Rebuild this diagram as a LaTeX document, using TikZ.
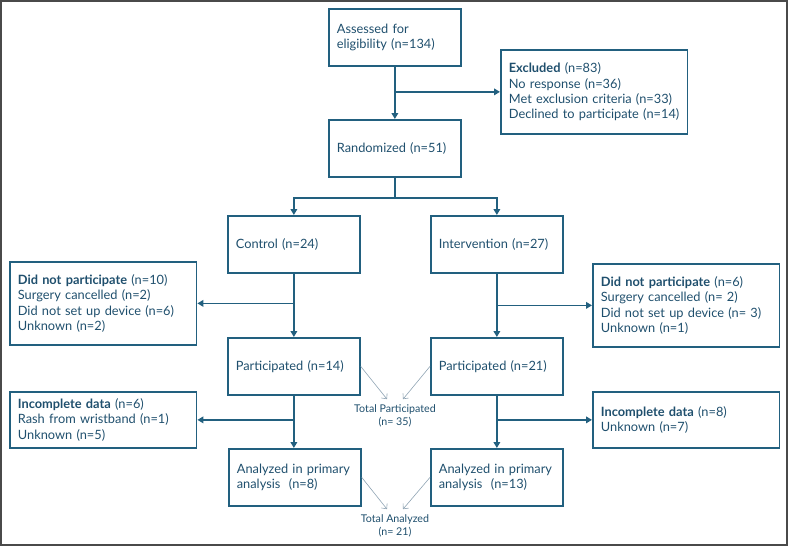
\documentclass[tikz,border=0pt]{standalone}
\usepackage{fontspec}
\setmainfont{Lato}
\usepackage{xcolor}
\usepackage{tikz}
\usetikzlibrary{arrows.meta}

\definecolor{flowblue}{HTML}{22607F}
\definecolor{flowtext}{HTML}{1F4F6D}
\definecolor{thingray}{HTML}{8FA3B3}
\definecolor{framegray}{HTML}{4A4A4A}

\begin{document}
\begin{tikzpicture}[x=0.75pt, y=-0.75pt, >={Triangle[width=5pt,length=4.5pt]},
  box/.style={draw=flowblue, line width=1.3pt, anchor=north west, text=flowtext,
    align=left, inner xsep=6pt, font=\fontsize{9.6}{11.5}\selectfont},
  mainbox/.style={box, text width=87pt, minimum height=42.75pt},
  sidebox/.style={box, text width=128pt},
  flow/.style={draw=flowblue, line width=1.3pt},
  thinarrow/.style={draw=thingray, line width=0.45pt, -{Straight Barb[length=3pt,width=5.5pt]}},
  total/.style={text=flowtext, align=center, inner sep=1pt, font=\fontsize{8}{9.8}\selectfont}]

\useasboundingbox (0,0) rectangle (788,546);

% Cornice
\draw[framegray, line width=1.1pt] (1,1) rectangle (787,545);

% Riquadri centrali
\node[mainbox] (assess) at (328,8) {Assessed for\\eligibility (n=134)};
\node[mainbox] (rand) at (328,119) {Randomized (n=51)};
\node[mainbox] (ctrl) at (227,215) {Control (n=24)};
\node[mainbox] (int) at (430,215) {Intervention (n=27)};
\node[mainbox] (pl) at (227,337) {Participated (n=14)};
\node[mainbox] (pr) at (430,337) {Participated (n=21)};
\node[mainbox] (al) at (228,448) {Analyzed in primary\\analysis~~(n=8)};
\node[mainbox] (ar) at (430,448) {Analyzed in primary\\analysis~~(n=13)};

% Riquadri laterali
\node[sidebox, minimum height=63pt] (excl) at (500,49)
  {\textbf{Excluded} (n=83)\\No response (n=36)\\Met exclusion criteria (n=33)\\Declined to participate (n=14)};
\node[sidebox, minimum height=62.25pt] (dnpl) at (9,261)
  {\textbf{Did not participate} (n=10)\\Surgery cancelled (n=2)\\Did not set up device (n=6)\\Unknown (n=2)};
\node[sidebox, minimum height=62.25pt] (dnpr) at (592,263)
  {\textbf{Did not participate} (n=6)\\Surgery cancelled (n= 2)\\Did not set up device (n= 3)\\Unknown (n=1)};
\node[sidebox, minimum height=42pt] (incl) at (9,391)
  {\textbf{Incomplete data} (n=6)\\Rash from wristband (n=1)\\Unknown (n=5)};
\node[sidebox, minimum height=42pt] (incr) at (592,391)
  {\textbf{Incomplete data} (n=8)\\Unknown (n=7)};

% Totali
\node[total] (totp) at (395,416) {Total Participated\\(n= 35)};
\node[total] (tota) at (395,526) {Total Analyzed\\(n= 21)};

% Frecce
\draw[flow,->] (assess.south) -- (rand.north);
\draw[flow,->] (assess.south |- excl.west) -- (excl.west);
\draw[flow] (rand.south) -- ++(0,20) coordinate (split);
\draw[flow,->] (split) -| (ctrl.north);
\draw[flow,->] (split) -| (int.north);

\draw[flow,->] (ctrl.south) -- (pl.north);
\draw[flow,->] (ctrl.south |- dnpl.east) -- (dnpl.east);
\draw[flow,->] (int.south) -- (pr.north);
\draw[flow,->] (int.south |- dnpr.west) -- (dnpr.west);

\draw[flow,->] (pl.south) -- (pl.south |- al.north);
\draw[flow,->] (pl.south |- incl.east) -- (incl.east);
\draw[flow,->] (pr.south) -- (ar.north);
\draw[flow,->] (pr.south |- incr.west) -- (incr.west);

% Frecce sottili verso i totali
\draw[thinarrow] (pl.east) -- ([xshift=-6pt,yshift=3pt]totp.north);
\draw[thinarrow] (pr.west) -- ([xshift=6pt,yshift=3pt]totp.north);
\draw[thinarrow] (al.east) -- ([xshift=-6pt,yshift=3pt]tota.north);
\draw[thinarrow] (ar.west) -- ([xshift=6pt,yshift=3pt]tota.north);

\end{tikzpicture}
\end{document}
